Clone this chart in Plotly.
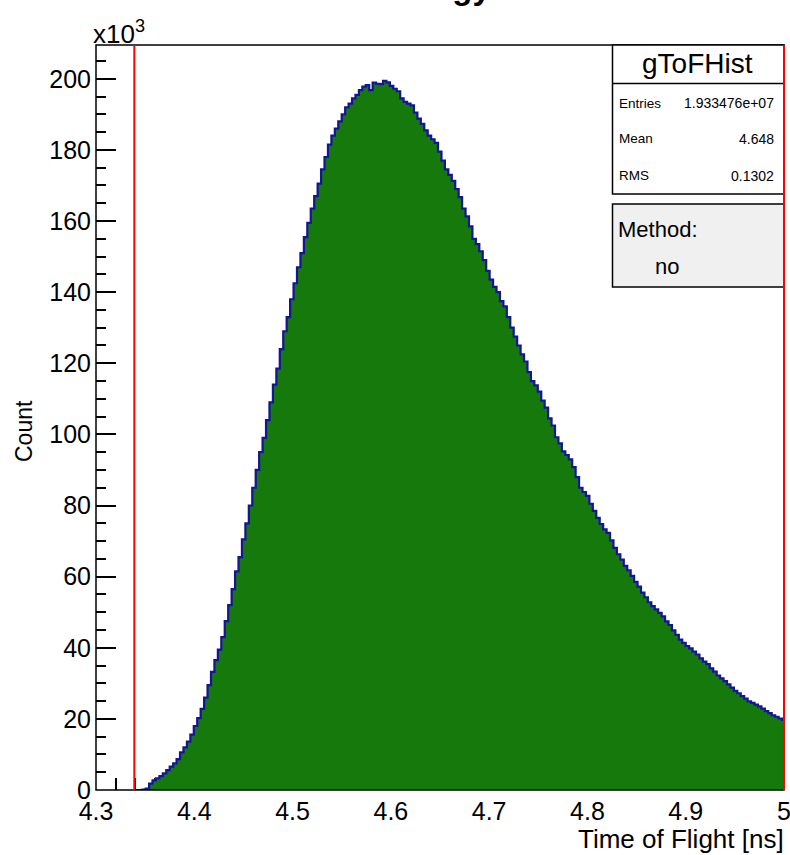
import plotly.graph_objects as go

# ---------------- data ----------------
bin_start = 4.34          # ns, left edge of first filled bin
bin_width = 0.0035        # ns
counts_k = [
    0, 0, 0.1, 0.4, 1.8, 2.7, 3.3, 3.9, 4.7, 5.6, 6.6, 7.5, 8.7, 10.6, 12.0, 13.6,
    15.6, 18.0, 20.2, 22.8, 26.0, 29.5, 33.2, 36.5, 39.5, 43.0, 47.5, 52, 56.5, 61.5,
    65.5, 70.5, 75, 80, 85, 90, 95, 99, 104, 109, 114, 118.5, 124, 129, 133, 138,
    142.5, 147, 151, 155.5, 159.5, 163.5, 167, 170.5, 174.5, 178, 181.5, 184, 186, 188,
    190, 192, 193, 194.5, 195.5, 196.8, 197.8, 198.2, 196.8, 198.9, 198.6, 198.5, 199.4,
    199.0, 198.0, 197.2, 196.5, 194.5, 193.5, 193.0, 192.5, 190.5, 188.8, 187.3, 185.5,
    184, 183, 182, 179.5, 177, 174.5, 173, 171.3, 169, 166.7, 163.5, 161.3, 158.5, 155,
    153.5, 151.5, 149, 146, 143.5, 141.5, 140, 137.5, 136, 133, 130, 127.5, 125, 122.5,
    120.5, 117.5, 115, 113.8, 112, 109.5, 107.5, 104.5, 102.5, 99.2, 97.5, 95.2, 94.2,
    93, 90.8, 88, 85, 83.8, 82.7, 80.5, 78.5, 76.5, 74.8, 73.3, 72.3, 70.2, 68.1, 66.3,
    64.8, 63, 61.8, 60.2, 58.5, 57.2, 55.5, 54.2, 52.8, 51.7, 50.8, 49.8, 48.8, 47.4,
    46.4, 44.9, 43.6, 42.3, 41.4, 40.5, 39.8, 38.9, 38.1, 37.0, 36.1, 35.4, 34.2, 33.3,
    32.2, 31.4, 30.6, 29.7, 28.8, 27.9, 27.2, 26.4, 25.7, 24.9, 24.5, 24.0, 23.5, 22.9,
    22.2, 21.6, 21.0, 20.6, 20.1, 19.7,
]
cut_lines = [4.339, 5.0]

x_range = [4.3, 5.0]
y_range = [0, 209.5]
x_tick_vals = [4.3, 4.4, 4.5, 4.6, 4.7, 4.8, 4.9, 5.0]
x_tick_text = ["4.3", "4.4", "4.5", "4.6", "4.7", "4.8", "4.9", "5"]
y_tick_vals = [0, 20, 40, 60, 80, 100, 120, 140, 160, 180, 200]
y_tick_text = ["0", "20", "40", "60", "80", "100", "120", "140", "160", "180", "200"]

hist_name = "gToFHist"
stat_labels = ["Entries", "Mean", "RMS"]
stat_values = ["1.933476e+07", "4.648", "0.1302"]
method_label = "Method:"
method_value = "no"
title_text = "Energy"
x_title = "Time of Flight [ns]"
y_title = "Count"

# ---------------- geometry helpers ----------------
W, H = 790, 855
L, R, T, B = 96, 784, 45, 790


def px(x):
    return (x - L) / (R - L)


def py(y):
    return (B - y) / (B - T)


def xdata_to_paper(v):
    return (v - x_range[0]) / (x_range[1] - x_range[0])


FONT = "Liberation Sans, Arial, sans-serif"

# step outline points
edges = [bin_start + bin_width * i for i in range(len(counts_k) + 1)]
xs = [edges[0]] + edges[:-1] + [edges[-1]]
ys = [0] + counts_k + [counts_k[-1]]

fig = go.Figure()
fig.add_trace(go.Scatter(
    x=xs, y=ys, mode="lines", line=dict(shape="hv", color="#14149a", width=2.2),
    fill="tozeroy", fillcolor="#157a0b", hoverinfo="skip", showlegend=False,
))

shapes = []
# frame
shapes.append(dict(type="rect", xref="paper", yref="paper", x0=0, x1=1, y0=0, y1=1,
                   line=dict(color="black", width=1.5), layer="above"))
# stats box
shapes.append(dict(type="rect", xref="paper", yref="paper", x0=px(612.5), x1=px(784),
                   y0=py(194), y1=py(45), fillcolor="white",
                   line=dict(color="black", width=1.5), layer="above"))
shapes.append(dict(type="line", xref="paper", yref="paper", x0=px(612.5), x1=px(784),
                   y0=py(83.5), y1=py(83.5), line=dict(color="black", width=1.5), layer="above"))
# method box
shapes.append(dict(type="rect", xref="paper", yref="paper", x0=px(612.5), x1=px(784),
                   y0=py(287), y1=py(204), fillcolor="#f0f0f0",
                   line=dict(color="black", width=1.5), layer="above"))
# cut lines (on top)
for c in cut_lines:
    xp = xdata_to_paper(c)
    shapes.append(dict(type="line", xref="paper", yref="paper", x0=xp, x1=xp, y0=0, y1=1,
                       line=dict(color="#ff0000", width=2), layer="above"))

ann = []
ann.append(dict(text=hist_name, xref="paper", yref="paper", x=px(697), y=py(63),
                xanchor="center", yanchor="middle", showarrow=False,
                font=dict(family=FONT, size=28, color="black")))
row_y = [103, 139, 176]
for lab, val, yy in zip(stat_labels, stat_values, row_y):
    ann.append(dict(text=lab, xref="paper", yref="paper", x=px(617), y=py(yy),
                    xanchor="left", yanchor="middle", showarrow=False,
                    font=dict(family=FONT, size=13.5, color="black")))
    ann.append(dict(text=val, xref="paper", yref="paper", x=px(776), y=py(yy),
                    xanchor="right", yanchor="middle", showarrow=False,
                    font=dict(family=FONT, size=14, color="black")))
ann.append(dict(text=method_label, xref="paper", yref="paper", x=px(616), y=py(229),
                xanchor="left", yanchor="middle", showarrow=False,
                font=dict(family=FONT, size=22, color="black")))
ann.append(dict(text=method_value, xref="paper", yref="paper", x=px(653), y=py(266),
                xanchor="left", yanchor="middle", showarrow=False,
                font=dict(family=FONT, size=22, color="black")))
# multiplier
ann.append(dict(text="x10<sup>3</sup>", xref="paper", yref="paper", x=px(91), y=py(51),
                xanchor="left", yanchor="bottom", showarrow=False,
                font=dict(family=FONT, size=26, color="black")))
# axis titles
ann.append(dict(text=x_title, xref="paper", yref="paper", x=px(786), y=py(839),
                xanchor="right", yanchor="middle", showarrow=False,
                font=dict(family=FONT, size=26, color="black")))
ann.append(dict(text=y_title, xref="paper", yref="paper", x=px(24), y=py(431),
                xanchor="center", yanchor="middle", textangle=-90, showarrow=False,
                font=dict(family=FONT, size=23, color="black")))
# title (mostly cut off at the top of the canvas)
ann.append(dict(text="<b>" + title_text + "</b>", xref="paper", yref="paper", x=px(494), y=py(8),
                xanchor="right", yanchor="bottom", showarrow=False,
                font=dict(family=FONT, size=33, color="black")))

fig.update_layout(
    width=W, height=H,
    margin=dict(l=L, r=W - R, t=T, b=H - B, pad=0, autoexpand=False),
    paper_bgcolor="white", plot_bgcolor="white",
    showlegend=False,
    shapes=shapes, annotations=ann,
    font=dict(family=FONT, color="black"),
)
fig.update_xaxes(
    range=[x_range[0], x_range[1] + 1e-6], tickmode="array", tickvals=x_tick_vals,
    ticktext=x_tick_text, ticklabeloverflow="allow", automargin=False,
    ticks="inside", ticklen=22, tickwidth=1.5, tickcolor="black",
    minor=dict(ticks="inside", ticklen=12, tickwidth=1.5, tickcolor="black",
               tickmode="linear", tick0=4.3, dtick=0.02),
    showgrid=False, zeroline=False, showline=False, layer="below traces",
    tickfont=dict(family=FONT, size=25, color="black"), ticklabelstandoff=4,
)
fig.update_yaxes(
    range=y_range, tickmode="array", tickvals=y_tick_vals, ticktext=y_tick_text,
    automargin=False,
    ticks="inside", ticklen=20, tickwidth=1.5, tickcolor="black",
    minor=dict(ticks="inside", ticklen=10, tickwidth=1.5, tickcolor="black",
               tickmode="linear", tick0=0, dtick=5),
    showgrid=False, zeroline=False, showline=False,
    tickfont=dict(family=FONT, size=25, color="black"), ticklabelstandoff=4,
)

fig.write_html("out.html")
